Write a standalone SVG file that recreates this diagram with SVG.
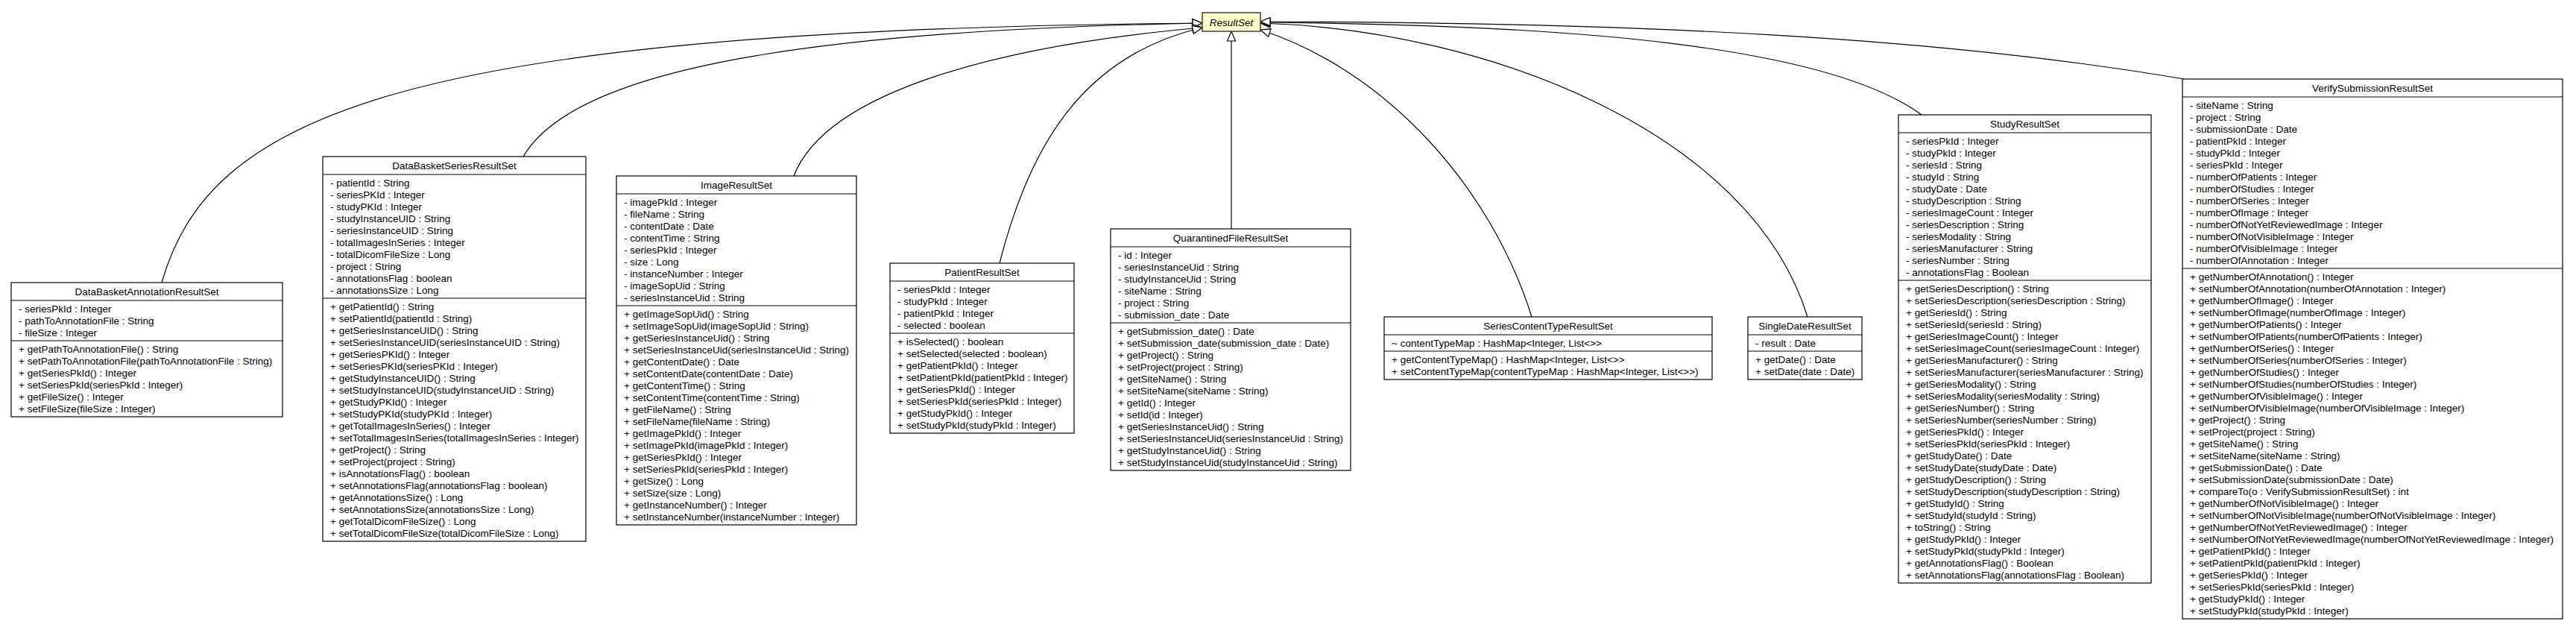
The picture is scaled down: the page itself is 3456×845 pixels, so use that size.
<svg xmlns="http://www.w3.org/2000/svg" width="3456" height="845" viewBox="0 0 3456 845">
<style>
.bg{fill:#fff}
.box{fill:#fff;stroke:#000;stroke-width:1.2}
.sep{stroke:#000;stroke-width:1.2}
.t{font-family:"Liberation Sans",Arial,sans-serif;font-size:13.5px;fill:#000}
.n{text-anchor:middle}
.edge{fill:none;stroke:#000;stroke-width:1.2}
.abs{fill:#ffffcc;stroke:#333;stroke-width:1.4}
</style>
<defs>
<marker id="tri" viewBox="0 0 16 13" markerWidth="16" markerHeight="13" refX="14.5" refY="6.5" orient="auto" markerUnits="userSpaceOnUse">
<path d="M1.5,1 L14.5,6.5 L1.5,12 Z" fill="#fff" stroke="#000" stroke-width="1.2"/>
</marker>
</defs>
<rect class="bg" x="0" y="0" width="3456" height="845"/>
<g id="connectors">
<path class="edge" d="M217,379 C280,160 520,40 1613,31" marker-end="url(#tri)"/>
<path class="edge" d="M702,210 C760,110 1000,42 1613,31" marker-end="url(#tri)"/>
<path class="edge" d="M1065,236 C1110,120 1350,60 1613,37" marker-end="url(#tri)"/>
<path class="edge" d="M1341,353 C1380,200 1450,75 1613,37" marker-end="url(#tri)"/>
<path class="edge" d="M1652,307 L1652,42" marker-end="url(#tri)"/>
<path class="edge" d="M2055,425 C2000,250 1860,95 1691,40" marker-end="url(#tri)"/>
<path class="edge" d="M2425,425 C2350,180 2000,40 1691,31" marker-end="url(#tri)"/>
<path class="edge" d="M2578,154 C2450,60 2100,33 1691,30" marker-end="url(#tri)"/>
<path class="edge" d="M2930,106 C2600,50 2200,30 1691,29" marker-end="url(#tri)"/>
</g>
<g id="ResultSet">
<rect class="abs" x="1613" y="17" width="78" height="25"/>
<text class="t n" x="1652" y="34.5" font-style="italic">ResultSet</text>
</g>
<g id="DataBasketAnnotationResultSet">
<rect class="box" x="15" y="379" width="364" height="180"/>
<line class="sep" x1="15" y1="403" x2="379" y2="403"/>
<line class="sep" x1="15" y1="457" x2="379" y2="457"/>
<text class="t n" x="197" y="396">DataBasketAnnotationResultSet</text>
<text class="t" x="25" y="418.5"><tspan x="25">- seriesPkId : Integer</tspan><tspan x="25" dy="16">- pathToAnnotationFile : String</tspan><tspan x="25" dy="16">- fileSize : Integer</tspan></text>
<text class="t" x="25" y="472.5"><tspan x="25">+ getPathToAnnotationFile() : String</tspan><tspan x="25" dy="16">+ setPathToAnnotationFile(pathToAnnotationFile : String)</tspan><tspan x="25" dy="16">+ getSeriesPkId() : Integer</tspan><tspan x="25" dy="16">+ setSeriesPkId(seriesPkId : Integer)</tspan><tspan x="25" dy="16">+ getFileSize() : Integer</tspan><tspan x="25" dy="16">+ setFileSize(fileSize : Integer)</tspan></text>
</g>
<g id="DataBasketSeriesResultSet">
<rect class="box" x="433" y="210" width="353" height="516"/>
<line class="sep" x1="433" y1="234" x2="786" y2="234"/>
<line class="sep" x1="433" y1="400" x2="786" y2="400"/>
<text class="t n" x="609.5" y="227">DataBasketSeriesResultSet</text>
<text class="t" x="443" y="249.5"><tspan x="443">- patientId : String</tspan><tspan x="443" dy="16">- seriesPKId : Integer</tspan><tspan x="443" dy="16">- studyPKId : Integer</tspan><tspan x="443" dy="16">- studyInstanceUID : String</tspan><tspan x="443" dy="16">- seriesInstanceUID : String</tspan><tspan x="443" dy="16">- totalImagesInSeries : Integer</tspan><tspan x="443" dy="16">- totalDicomFileSize : Long</tspan><tspan x="443" dy="16">- project : String</tspan><tspan x="443" dy="16">- annotationsFlag : boolean</tspan><tspan x="443" dy="16">- annotationsSize : Long</tspan></text>
<text class="t" x="443" y="415.5"><tspan x="443">+ getPatientId() : String</tspan><tspan x="443" dy="16">+ setPatientId(patientId : String)</tspan><tspan x="443" dy="16">+ getSeriesInstanceUID() : String</tspan><tspan x="443" dy="16">+ setSeriesInstanceUID(seriesInstanceUID : String)</tspan><tspan x="443" dy="16">+ getSeriesPKId() : Integer</tspan><tspan x="443" dy="16">+ setSeriesPKId(seriesPKId : Integer)</tspan><tspan x="443" dy="16">+ getStudyInstanceUID() : String</tspan><tspan x="443" dy="16">+ setStudyInstanceUID(studyInstanceUID : String)</tspan><tspan x="443" dy="16">+ getStudyPKId() : Integer</tspan><tspan x="443" dy="16">+ setStudyPKId(studyPKId : Integer)</tspan><tspan x="443" dy="16">+ getTotalImagesInSeries() : Integer</tspan><tspan x="443" dy="16">+ setTotalImagesInSeries(totalImagesInSeries : Integer)</tspan><tspan x="443" dy="16">+ getProject() : String</tspan><tspan x="443" dy="16">+ setProject(project : String)</tspan><tspan x="443" dy="16">+ isAnnotationsFlag() : boolean</tspan><tspan x="443" dy="16">+ setAnnotationsFlag(annotationsFlag : boolean)</tspan><tspan x="443" dy="16">+ getAnnotationsSize() : Long</tspan><tspan x="443" dy="16">+ setAnnotationsSize(annotationsSize : Long)</tspan><tspan x="443" dy="16">+ getTotalDicomFileSize() : Long</tspan><tspan x="443" dy="16">+ setTotalDicomFileSize(totalDicomFileSize : Long)</tspan></text>
</g>
<g id="ImageResultSet">
<rect class="box" x="827" y="236" width="322" height="468"/>
<line class="sep" x1="827" y1="260" x2="1149" y2="260"/>
<line class="sep" x1="827" y1="410" x2="1149" y2="410"/>
<text class="t n" x="988" y="253">ImageResultSet</text>
<text class="t" x="837" y="275.5"><tspan x="837">- imagePkId : Integer</tspan><tspan x="837" dy="16">- fileName : String</tspan><tspan x="837" dy="16">- contentDate : Date</tspan><tspan x="837" dy="16">- contentTime : String</tspan><tspan x="837" dy="16">- seriesPkId : Integer</tspan><tspan x="837" dy="16">- size : Long</tspan><tspan x="837" dy="16">- instanceNumber : Integer</tspan><tspan x="837" dy="16">- imageSopUid : String</tspan><tspan x="837" dy="16">- seriesInstanceUid : String</tspan></text>
<text class="t" x="837" y="425.5"><tspan x="837">+ getImageSopUid() : String</tspan><tspan x="837" dy="16">+ setImageSopUid(imageSopUid : String)</tspan><tspan x="837" dy="16">+ getSeriesInstanceUid() : String</tspan><tspan x="837" dy="16">+ setSeriesInstanceUid(seriesInstanceUid : String)</tspan><tspan x="837" dy="16">+ getContentDate() : Date</tspan><tspan x="837" dy="16">+ setContentDate(contentDate : Date)</tspan><tspan x="837" dy="16">+ getContentTime() : String</tspan><tspan x="837" dy="16">+ setContentTime(contentTime : String)</tspan><tspan x="837" dy="16">+ getFileName() : String</tspan><tspan x="837" dy="16">+ setFileName(fileName : String)</tspan><tspan x="837" dy="16">+ getImagePkId() : Integer</tspan><tspan x="837" dy="16">+ setImagePkId(imagePkId : Integer)</tspan><tspan x="837" dy="16">+ getSeriesPkId() : Integer</tspan><tspan x="837" dy="16">+ setSeriesPkId(seriesPkId : Integer)</tspan><tspan x="837" dy="16">+ getSize() : Long</tspan><tspan x="837" dy="16">+ setSize(size : Long)</tspan><tspan x="837" dy="16">+ getInstanceNumber() : Integer</tspan><tspan x="837" dy="16">+ setInstanceNumber(instanceNumber : Integer)</tspan></text>
</g>
<g id="PatientResultSet">
<rect class="box" x="1194" y="353" width="247" height="228"/>
<line class="sep" x1="1194" y1="377" x2="1441" y2="377"/>
<line class="sep" x1="1194" y1="447" x2="1441" y2="447"/>
<text class="t n" x="1317.5" y="370">PatientResultSet</text>
<text class="t" x="1204" y="392.5"><tspan x="1204">- seriesPkId : Integer</tspan><tspan x="1204" dy="16">- studyPkId : Integer</tspan><tspan x="1204" dy="16">- patientPkId : Integer</tspan><tspan x="1204" dy="16">- selected : boolean</tspan></text>
<text class="t" x="1204" y="462.5"><tspan x="1204">+ isSelected() : boolean</tspan><tspan x="1204" dy="16">+ setSelected(selected : boolean)</tspan><tspan x="1204" dy="16">+ getPatientPkId() : Integer</tspan><tspan x="1204" dy="16">+ setPatientPkId(patientPkId : Integer)</tspan><tspan x="1204" dy="16">+ getSeriesPkId() : Integer</tspan><tspan x="1204" dy="16">+ setSeriesPkId(seriesPkId : Integer)</tspan><tspan x="1204" dy="16">+ getStudyPkId() : Integer</tspan><tspan x="1204" dy="16">+ setStudyPkId(studyPkId : Integer)</tspan></text>
</g>
<g id="QuarantinedFileResultSet">
<rect class="box" x="1490" y="307" width="322" height="324"/>
<line class="sep" x1="1490" y1="331" x2="1812" y2="331"/>
<line class="sep" x1="1490" y1="433" x2="1812" y2="433"/>
<text class="t n" x="1651" y="324">QuarantinedFileResultSet</text>
<text class="t" x="1500" y="346.5"><tspan x="1500">- id : Integer</tspan><tspan x="1500" dy="16">- seriesInstanceUid : String</tspan><tspan x="1500" dy="16">- studyInstanceUid : String</tspan><tspan x="1500" dy="16">- siteName : String</tspan><tspan x="1500" dy="16">- project : String</tspan><tspan x="1500" dy="16">- submission_date : Date</tspan></text>
<text class="t" x="1500" y="448.5"><tspan x="1500">+ getSubmission_date() : Date</tspan><tspan x="1500" dy="16">+ setSubmission_date(submission_date : Date)</tspan><tspan x="1500" dy="16">+ getProject() : String</tspan><tspan x="1500" dy="16">+ setProject(project : String)</tspan><tspan x="1500" dy="16">+ getSiteName() : String</tspan><tspan x="1500" dy="16">+ setSiteName(siteName : String)</tspan><tspan x="1500" dy="16">+ getId() : Integer</tspan><tspan x="1500" dy="16">+ setId(id : Integer)</tspan><tspan x="1500" dy="16">+ getSeriesInstanceUid() : String</tspan><tspan x="1500" dy="16">+ setSeriesInstanceUid(seriesInstanceUid : String)</tspan><tspan x="1500" dy="16">+ getStudyInstanceUid() : String</tspan><tspan x="1500" dy="16">+ setStudyInstanceUid(studyInstanceUid : String)</tspan></text>
</g>
<g id="SeriesContentTypeResultSet">
<rect class="box" x="1857" y="425" width="440" height="84"/>
<line class="sep" x1="1857" y1="449" x2="2297" y2="449"/>
<line class="sep" x1="1857" y1="471" x2="2297" y2="471"/>
<text class="t n" x="2077" y="442">SeriesContentTypeResultSet</text>
<text class="t" x="1867" y="464.5">~ contentTypeMap : HashMap&lt;Integer, List&lt;&gt;&gt;</text>
<text class="t" x="1867" y="486.5"><tspan x="1867">+ getContentTypeMap() : HashMap&lt;Integer, List&lt;&gt;&gt;</tspan><tspan x="1867" dy="16">+ setContentTypeMap(contentTypeMap : HashMap&lt;Integer, List&lt;&gt;&gt;)</tspan></text>
</g>
<g id="SingleDateResultSet">
<rect class="box" x="2345" y="425" width="153" height="84"/>
<line class="sep" x1="2345" y1="449" x2="2498" y2="449"/>
<line class="sep" x1="2345" y1="471" x2="2498" y2="471"/>
<text class="t n" x="2421.5" y="442">SingleDateResultSet</text>
<text class="t" x="2355" y="464.5">- result : Date</text>
<text class="t" x="2355" y="486.5"><tspan x="2355">+ getDate() : Date</tspan><tspan x="2355" dy="16">+ setDate(date : Date)</tspan></text>
</g>
<g id="StudyResultSet">
<rect class="box" x="2547" y="154" width="339" height="628"/>
<line class="sep" x1="2547" y1="178" x2="2886" y2="178"/>
<line class="sep" x1="2547" y1="376" x2="2886" y2="376"/>
<text class="t n" x="2716.5" y="171">StudyResultSet</text>
<text class="t" x="2557" y="193.5"><tspan x="2557">- seriesPkId : Integer</tspan><tspan x="2557" dy="16">- studyPkId : Integer</tspan><tspan x="2557" dy="16">- seriesId : String</tspan><tspan x="2557" dy="16">- studyId : String</tspan><tspan x="2557" dy="16">- studyDate : Date</tspan><tspan x="2557" dy="16">- studyDescription : String</tspan><tspan x="2557" dy="16">- seriesImageCount : Integer</tspan><tspan x="2557" dy="16">- seriesDescription : String</tspan><tspan x="2557" dy="16">- seriesModality : String</tspan><tspan x="2557" dy="16">- seriesManufacturer : String</tspan><tspan x="2557" dy="16">- seriesNumber : String</tspan><tspan x="2557" dy="16">- annotationsFlag : Boolean</tspan></text>
<text class="t" x="2557" y="391.5"><tspan x="2557">+ getSeriesDescription() : String</tspan><tspan x="2557" dy="16">+ setSeriesDescription(seriesDescription : String)</tspan><tspan x="2557" dy="16">+ getSeriesId() : String</tspan><tspan x="2557" dy="16">+ setSeriesId(seriesId : String)</tspan><tspan x="2557" dy="16">+ getSeriesImageCount() : Integer</tspan><tspan x="2557" dy="16">+ setSeriesImageCount(seriesImageCount : Integer)</tspan><tspan x="2557" dy="16">+ getSeriesManufacturer() : String</tspan><tspan x="2557" dy="16">+ setSeriesManufacturer(seriesManufacturer : String)</tspan><tspan x="2557" dy="16">+ getSeriesModality() : String</tspan><tspan x="2557" dy="16">+ setSeriesModality(seriesModality : String)</tspan><tspan x="2557" dy="16">+ getSeriesNumber() : String</tspan><tspan x="2557" dy="16">+ setSeriesNumber(seriesNumber : String)</tspan><tspan x="2557" dy="16">+ getSeriesPkId() : Integer</tspan><tspan x="2557" dy="16">+ setSeriesPkId(seriesPkId : Integer)</tspan><tspan x="2557" dy="16">+ getStudyDate() : Date</tspan><tspan x="2557" dy="16">+ setStudyDate(studyDate : Date)</tspan><tspan x="2557" dy="16">+ getStudyDescription() : String</tspan><tspan x="2557" dy="16">+ setStudyDescription(studyDescription : String)</tspan><tspan x="2557" dy="16">+ getStudyId() : String</tspan><tspan x="2557" dy="16">+ setStudyId(studyId : String)</tspan><tspan x="2557" dy="16">+ toString() : String</tspan><tspan x="2557" dy="16">+ getStudyPkId() : Integer</tspan><tspan x="2557" dy="16">+ setStudyPkId(studyPkId : Integer)</tspan><tspan x="2557" dy="16">+ getAnnotationsFlag() : Boolean</tspan><tspan x="2557" dy="16">+ setAnnotationsFlag(annotationsFlag : Boolean)</tspan></text>
</g>
<g id="VerifySubmissionResultSet">
<rect class="box" x="2928" y="106" width="510" height="724"/>
<line class="sep" x1="2928" y1="130" x2="3438" y2="130"/>
<line class="sep" x1="2928" y1="360" x2="3438" y2="360"/>
<text class="t n" x="3183" y="123">VerifySubmissionResultSet</text>
<text class="t" x="2938" y="145.5"><tspan x="2938">- siteName : String</tspan><tspan x="2938" dy="16">- project : String</tspan><tspan x="2938" dy="16">- submissionDate : Date</tspan><tspan x="2938" dy="16">- patientPkId : Integer</tspan><tspan x="2938" dy="16">- studyPkId : Integer</tspan><tspan x="2938" dy="16">- seriesPkId : Integer</tspan><tspan x="2938" dy="16">- numberOfPatients : Integer</tspan><tspan x="2938" dy="16">- numberOfStudies : Integer</tspan><tspan x="2938" dy="16">- numberOfSeries : Integer</tspan><tspan x="2938" dy="16">- numberOfImage : Integer</tspan><tspan x="2938" dy="16">- numberOfNotYetReviewedImage : Integer</tspan><tspan x="2938" dy="16">- numberOfNotVisibleImage : Integer</tspan><tspan x="2938" dy="16">- numberOfVisibleImage : Integer</tspan><tspan x="2938" dy="16">- numberOfAnnotation : Integer</tspan></text>
<text class="t" x="2938" y="375.5"><tspan x="2938">+ getNumberOfAnnotation() : Integer</tspan><tspan x="2938" dy="16">+ setNumberOfAnnotation(numberOfAnnotation : Integer)</tspan><tspan x="2938" dy="16">+ getNumberOfImage() : Integer</tspan><tspan x="2938" dy="16">+ setNumberOfImage(numberOfImage : Integer)</tspan><tspan x="2938" dy="16">+ getNumberOfPatients() : Integer</tspan><tspan x="2938" dy="16">+ setNumberOfPatients(numberOfPatients : Integer)</tspan><tspan x="2938" dy="16">+ getNumberOfSeries() : Integer</tspan><tspan x="2938" dy="16">+ setNumberOfSeries(numberOfSeries : Integer)</tspan><tspan x="2938" dy="16">+ getNumberOfStudies() : Integer</tspan><tspan x="2938" dy="16">+ setNumberOfStudies(numberOfStudies : Integer)</tspan><tspan x="2938" dy="16">+ getNumberOfVisibleImage() : Integer</tspan><tspan x="2938" dy="16">+ setNumberOfVisibleImage(numberOfVisibleImage : Integer)</tspan><tspan x="2938" dy="16">+ getProject() : String</tspan><tspan x="2938" dy="16">+ setProject(project : String)</tspan><tspan x="2938" dy="16">+ getSiteName() : String</tspan><tspan x="2938" dy="16">+ setSiteName(siteName : String)</tspan><tspan x="2938" dy="16">+ getSubmissionDate() : Date</tspan><tspan x="2938" dy="16">+ setSubmissionDate(submissionDate : Date)</tspan><tspan x="2938" dy="16">+ compareTo(o : VerifySubmissionResultSet) : int</tspan><tspan x="2938" dy="16">+ getNumberOfNotVisibleImage() : Integer</tspan><tspan x="2938" dy="16">+ setNumberOfNotVisibleImage(numberOfNotVisibleImage : Integer)</tspan><tspan x="2938" dy="16">+ getNumberOfNotYetReviewedImage() : Integer</tspan><tspan x="2938" dy="16">+ setNumberOfNotYetReviewedImage(numberOfNotYetReviewedImage : Integer)</tspan><tspan x="2938" dy="16">+ getPatientPkId() : Integer</tspan><tspan x="2938" dy="16">+ setPatientPkId(patientPkId : Integer)</tspan><tspan x="2938" dy="16">+ getSeriesPkId() : Integer</tspan><tspan x="2938" dy="16">+ setSeriesPkId(seriesPkId : Integer)</tspan><tspan x="2938" dy="16">+ getStudyPkId() : Integer</tspan><tspan x="2938" dy="16">+ setStudyPkId(studyPkId : Integer)</tspan></text>
</g>
</svg>
